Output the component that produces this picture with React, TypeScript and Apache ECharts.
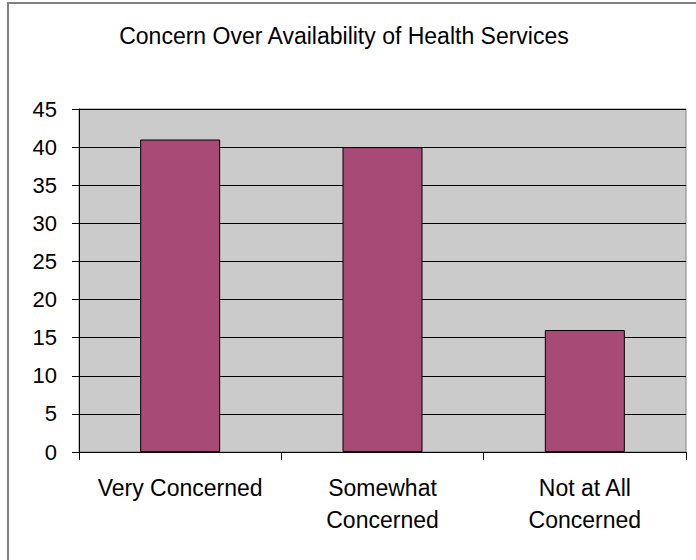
import React, { useEffect, useRef } from "react";
import * as echarts from "echarts";

const titleText = "Concern Over Availability of Health Services";
const categories = ["Very Concerned", "Somewhat\nConcerned", "Not at All\nConcerned"];
const values = [41, 40, 16];
const yMin = 0;
const yMax = 45;
const yInterval = 5;

const FONT = '"Liberation Sans", Arial, sans-serif';

export default function App() {
  const ref = useRef<HTMLDivElement>(null);
  useEffect(() => {
    if (!ref.current) return;
    const chart = echarts.init(ref.current, undefined, { renderer: "svg" });
    chart.setOption({
      animation: false,
      backgroundColor: "#ffffff",
      textStyle: { fontFamily: FONT },
      graphic: [
        {
          type: "text",
          x: 344,
          y: 36,
          style: {
            text: titleText,
            fontFamily: FONT,
            fontSize: 23,
            fill: "#000",
            textAlign: "center",
            textVerticalAlign: "middle",
          },
          silent: true,
        },
        {
          type: "rect",
          shape: { x: 8, y: 3, width: 900, height: 800 },
          style: { fill: "none", stroke: "#808080", lineWidth: 2 },
          silent: true,
          z: 100,
        },
      ],
      grid: {
        left: 79,
        top: 109,
        right: 10,
        bottom: 108,
        show: true,
        backgroundColor: "#cbcbcb",
        borderColor: "#808080",
        borderWidth: 1,
      },
      xAxis: {
        type: "category",
        data: categories,
        axisLine: { show: true, lineStyle: { color: "#000", width: 1 } },
        axisTick: { show: true, length: 8, inside: false, lineStyle: { color: "#000" } },
        axisLabel: {
          color: "#000",
          fontSize: 23,
          fontFamily: FONT,
          lineHeight: 32,
          margin: 20,
          interval: 0,
        },
        splitLine: { show: false },
      },
      yAxis: {
        type: "value",
        min: yMin,
        max: yMax,
        interval: yInterval,
        axisLine: { show: true, lineStyle: { color: "#000", width: 1 } },
        axisTick: { show: true, length: 7, inside: false, lineStyle: { color: "#000" } },
        axisLabel: { color: "#000", fontSize: 22, fontFamily: FONT, margin: 22 },
        splitLine: { show: true, lineStyle: { color: "#000", width: 1 } },
      },
      series: [
        {
          type: "bar",
          data: values,
          barWidth: 80,
          itemStyle: { color: "#a84a76", borderColor: "#000", borderWidth: 1 },
        },
      ],
    });
    return () => chart.dispose();
  }, []);
  return (
    <div
      ref={ref}
      style={{ position: "absolute", left: 0, top: 0, width: 696, height: 560 }}
    />
  );
}
